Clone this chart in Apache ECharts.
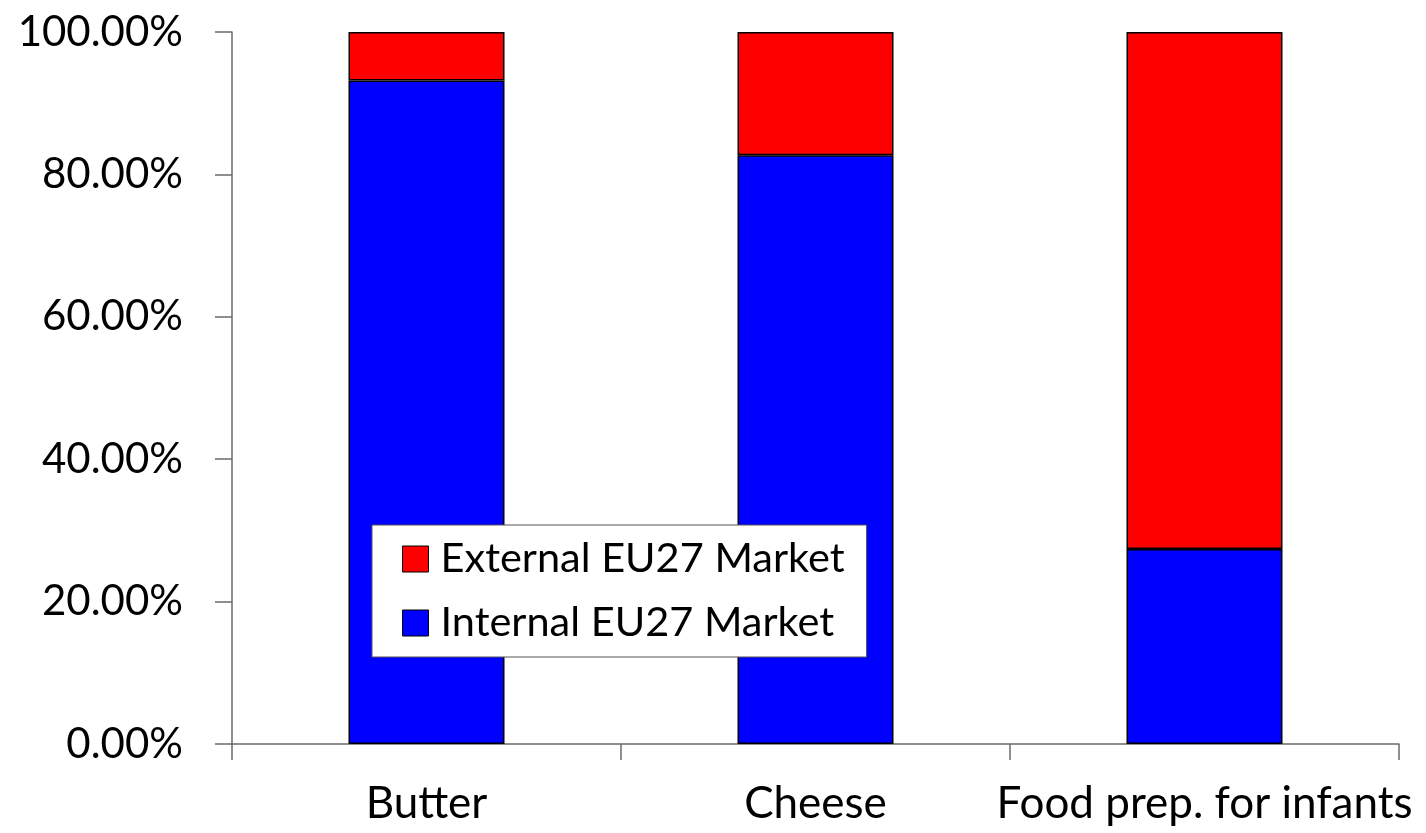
<!DOCTYPE html>
<html>
<head>
<meta charset="utf-8">
<script src="https://cdn.jsdelivr.net/npm/echarts@6/dist/echarts.min.js"></script>
<style>
html,body{margin:0;padding:0;background:#fff;}
#chart{width:1426px;height:833px;}
</style>
</head>
<body>
<div id="chart"></div>
<script>
var categories = ['Butter', 'Cheese', 'Food prep. for infants'];
var internalValues = [93.2, 82.7, 27.4];
var externalValues = [6.8, 17.3, 72.6];
var yTicks = [0, 20, 40, 60, 80, 100];
var seriesNames = ['Internal EU27 Market', 'External EU27 Market'];

var FONT = 'Lato';
var chart = echarts.init(document.getElementById('chart'));
chart.setOption({
  animation: false,
  backgroundColor: '#ffffff',
  textStyle: { fontFamily: FONT },
  grid: { left: 232, right: 27, top: 32, bottom: 89, containLabel: false },
  legend: {
    orient: 'vertical',
    left: 372,
    top: 525,
    data: [seriesNames[1], seriesNames[0]],
    backgroundColor: '#ffffff',
    borderColor: '#555555',
    borderWidth: 1,
    padding: [13, 22, 13, 30],
    itemWidth: 26,
    itemHeight: 26,
    itemGap: 22,
    icon: 'rect',
    itemStyle: { borderColor: '#000', borderWidth: 1 },
    textStyle: { fontFamily: FONT, fontSize: 41.5, color: '#000', lineHeight: 42, padding: [0, 0, 0, 7] }
  },
  xAxis: {
    type: 'category',
    data: categories,
    boundaryGap: true,
    axisLine: { lineStyle: { color: '#6b6b6b', width: 1.5 } },
    axisTick: { show: true, interval: 0, length: 16, lineStyle: { color: '#6b6b6b', width: 1.5 } },
    axisLabel: { interval: 0, fontFamily: FONT, fontSize: 44, color: '#000', margin: 38 }
  },
  yAxis: {
    type: 'value',
    min: 0,
    max: 100,
    interval: 20,
    axisLine: { show: true, lineStyle: { color: '#6b6b6b', width: 1.5 } },
    axisTick: { show: true, length: 17, lineStyle: { color: '#6b6b6b', width: 1.5 } },
    splitLine: { show: false },
    axisLabel: {
      fontFamily: FONT, fontSize: 42, color: '#000', margin: 49,
      formatter: function (v) { return yTicks.indexOf(v) >= 0 ? v.toFixed(2) + '%' : ''; }
    }
  },
  series: [
    {
      name: seriesNames[0], type: 'bar', stack: 'total', barWidth: 156,
      data: internalValues,
      itemStyle: { color: '#0000ff', borderColor: '#000', borderWidth: 1.5 }
    },
    {
      name: seriesNames[1], type: 'bar', stack: 'total', barWidth: 156,
      data: externalValues,
      itemStyle: { color: '#ff0000', borderColor: '#000', borderWidth: 1.5 }
    }
  ]
});
</script>
</body>
</html>
